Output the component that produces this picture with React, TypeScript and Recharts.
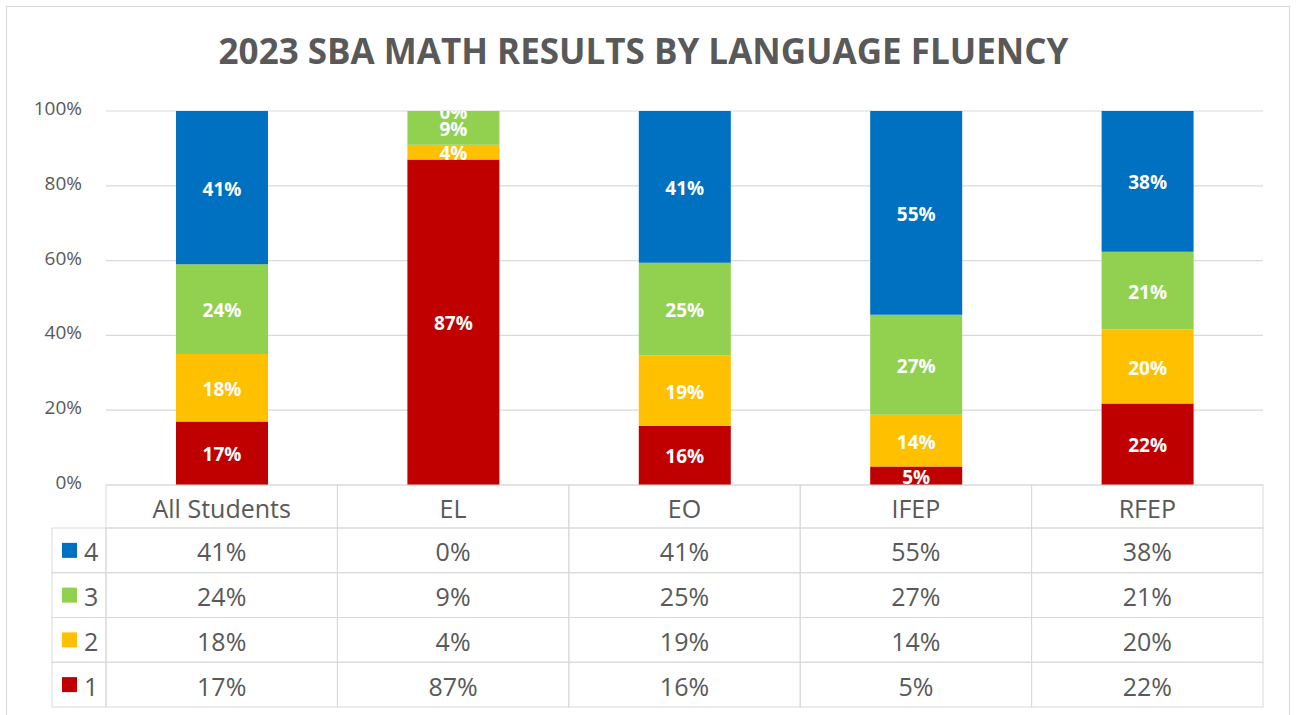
import { Bar, BarChart, CartesianGrid, LabelList, XAxis, YAxis } from 'recharts'

const categories = ['All Students', 'EL', 'EO', 'IFEP', 'RFEP']
const level1 = [17, 87, 16, 5, 22]
const level2 = [18, 4, 19, 14, 20]
const level3 = [24, 9, 25, 27, 21]
const level4 = [41, 0, 41, 55, 38]
const yTicks = [0, 0.2, 0.4, 0.6, 0.8, 1]

const series = [
  { key: 'l1', name: '1', color: '#C00000', values: level1 },
  { key: 'l2', name: '2', color: '#FFC000', values: level2 },
  { key: 'l3', name: '3', color: '#92D050', values: level3 },
  { key: 'l4', name: '4', color: '#0070C0', values: level4 },
]
// table lists the top of the stack first
const tableRows = [...series].reverse()

const data = categories.map((name, i) => ({
  name,
  l1: level1[i],
  l2: level2[i],
  l3: level3[i],
  l4: level4[i],
}))

const W = 1297
const H = 715
const PLOT_LEFT = 106
const PLOT_RIGHT = 1263
const PLOT_TOP = 111
const BAND = (PLOT_RIGHT - PLOT_LEFT) / categories.length
const HEADER_H = 43
const ROW_H = 44.75
const TABLE_H = HEADER_H + ROW_H * 4
const FONT = "'Open Sans', sans-serif"
const TEXT = '#595959'
const LINE = '#d9d9d9'

function TableTick(props: any) {
  const { x, y, payload } = props
  const i = typeof payload.index === 'number' ? payload.index : categories.indexOf(payload.value)
  const left = x - BAND / 2
  return (
    <g fontFamily={FONT}>
      <rect x={left} y={y} width={BAND} height={HEADER_H} fill="none" stroke={LINE} />
      <text x={x} y={y + HEADER_H / 2 + 1} textAnchor="middle" dominantBaseline="central" fontSize={25} fill={TEXT}>
        {payload.value}
      </text>
      {tableRows.map((s, r) => {
        const top = y + HEADER_H + r * ROW_H
        return (
          <g key={s.key}>
            <rect x={left} y={top} width={BAND} height={ROW_H} fill="none" stroke={LINE} />
            <text x={x} y={top + ROW_H / 2 + 1} textAnchor="middle" dominantBaseline="central" fontSize={25} fill={TEXT}>
              {s.values[i]}%
            </text>
            {i === 0 && (
              <g>
                <rect x={left - 54} y={top} width={54} height={ROW_H} fill="none" stroke={LINE} />
                <rect x={left - 44} y={top + ROW_H / 2 - 7.5} width={15} height={15} fill={s.color} />
                <text x={left - 22} y={top + ROW_H / 2 + 1} dominantBaseline="central" fontSize={25} fill={TEXT}>
                  {s.name}
                </text>
              </g>
            )}
          </g>
        )
      })}
    </g>
  )
}

function PercentTick(props: any) {
  const { y, payload } = props
  return (
    <text x={PLOT_LEFT - 24} y={y - 3} textAnchor="end" dominantBaseline="central" fontFamily={FONT} fontSize={19} fill={TEXT}>
      {Math.round(payload.value * 100)}%
    </text>
  )
}

const labelStyle = {
  textAnchor: 'middle' as const,
  dominantBaseline: 'central' as const,
  fontFamily: FONT,
  fontWeight: 'bold',
  fontSize: 19,
  fill: '#ffffff',
}

function BarLabel(props: any) {
  const { x, y, width, height, value, index, above } = props
  if (value === 0) return null
  const cx = x + width / 2
  const cy = y + height / 2
  const clipId = `zero-clip-${Math.round(x)}-${Math.round(y)}`
  return (
    <g>
      <text x={cx} y={cy + 1} {...labelStyle}>
        {value}%
      </text>
      {/* an empty segment on top of this one: Excel prints its label on the plot edge, half cut off */}
      {above === 0 && (
        <g>
          <defs>
            <clipPath id={clipId}>
              <rect x={x} y={y} width={width} height={40} />
            </clipPath>
          </defs>
          <text x={cx} y={y + 1} {...labelStyle} clipPath={`url(#${clipId})`}>
            {above}%
          </text>
        </g>
      )}
    </g>
  )
}

export default function App() {
  return (
    <div style={{ position: 'absolute', left: 0, top: 0, width: W, height: H, overflow: 'hidden', background: '#fff' }}>
      <div
        style={{
          position: 'absolute',
          left: 6,
          top: 6,
          width: 1284,
          height: 760,
          border: `1.5px solid ${LINE}`,
          boxSizing: 'border-box',
        }}
      />
      <div
        style={{
          position: 'absolute',
          left: 0,
          top: 33,
          width: PLOT_RIGHT + 24,
          height: 35,
          lineHeight: '35px',
          textAlign: 'center',
          fontFamily: FONT,
          fontWeight: 'bold',
          fontSize: 35,
          color: TEXT,
          whiteSpace: 'nowrap',
        }}
      >
        2023 SBA MATH RESULTS BY LANGUAGE FLUENCY
      </div>
      <div style={{ position: 'absolute', left: 0, top: 0 }}>
        <BarChart
          width={W}
          height={H}
          data={data}
          stackOffset="expand"
          barSize={92}
          margin={{ top: PLOT_TOP, right: W - PLOT_RIGHT, bottom: H - PLOT_TOP - 374 - TABLE_H, left: 0 }}
        >
          <CartesianGrid vertical={false} stroke={LINE} strokeWidth={1.2} />
          <XAxis
            dataKey="name"
            axisLine={false}
            tickLine={false}
            tickSize={0}
            tickMargin={0}
            height={TABLE_H}
            interval={0}
            tick={<TableTick />}
          />
          <YAxis
            width={PLOT_LEFT}
            domain={[0, 1]}
            ticks={yTicks}
            axisLine={false}
            tickLine={false}
            tickSize={0}
            tick={<PercentTick />}
          />
          {series.map((s, k) => {
            const next = series[k + 1]
            return (
              <Bar key={s.key} dataKey={s.key} name={s.name} stackId="a" fill={s.color} isAnimationActive={false}>
                <LabelList
                  dataKey={s.key}
                  content={(p: any) => <BarLabel {...p} above={next ? next.values[p.index] : undefined} />}
                />
              </Bar>
            )
          })}
        </BarChart>
      </div>
    </div>
  )
}
